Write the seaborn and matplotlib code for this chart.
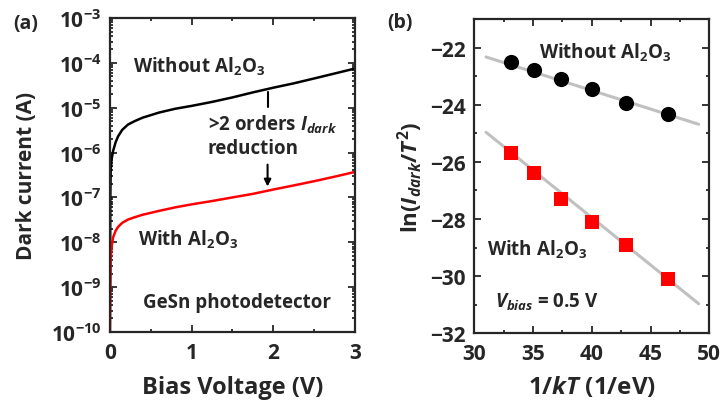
import numpy as np
import pandas as pd
import matplotlib
matplotlib.use('Agg')
import matplotlib.pyplot as plt
import matplotlib.ticker as mticker
import seaborn as sns

#%% data
# (a) dark current vs bias voltage
bias_v = [0, 0.005, 0.01, 0.02, 0.04, 0.07, 0.1, 0.15, 0.22, 0.3, 0.4, 0.6, 0.8,
          1.0, 1.25, 1.5, 1.75, 2.0, 2.25, 2.5, 2.75, 3.0]
i_without = [1e-10, 1e-7, 4e-7, 7e-7, 1.1e-6, 1.7e-6, 2.3e-6, 3.2e-6, 4.2e-6, 5e-6,
             6e-6, 7.8e-6, 9.5e-6, 1.1e-5, 1.35e-5, 1.7e-5, 2.2e-5, 2.8e-5, 3.5e-5,
             4.5e-5, 5.8e-5, 7.5e-5]
i_with = [1e-10, 1e-9, 4e-9, 8e-9, 1.3e-8, 1.8e-8, 2.2e-8, 2.7e-8, 3.2e-8, 3.6e-8,
          4.1e-8, 5e-8, 6e-8, 7e-8, 8.3e-8, 1e-7, 1.2e-7, 1.5e-7, 1.85e-7, 2.3e-7,
          2.9e-7, 3.7e-7]

# (b) Arrhenius plot
inv_kt = [33.1, 35.1, 37.4, 40.0, 42.9, 46.45]
ln_without = [-22.49, -22.79, -23.10, -23.43, -23.93, -24.31]
ln_with = [-25.68, -26.39, -27.31, -28.12, -28.92, -30.09]
fit_x = [31.0, 49.1]
fit_without = [-22.32, -24.68]
fit_with = [-24.96, -30.97]

y_decades = [-10, -9, -8, -7, -6, -5, -4, -3]

#%% style
sns.set_style('ticks')
FONT = 'Open Sans'
plt.rcParams['font.family'] = [FONT, 'DejaVu Sans']
plt.rcParams['font.weight'] = 'bold'
plt.rcParams['mathtext.fontset'] = 'custom'
plt.rcParams['mathtext.rm'] = FONT + ':bold'
plt.rcParams['mathtext.bf'] = FONT + ':bold'
plt.rcParams['mathtext.it'] = FONT + ':bold:italic'
plt.rcParams['axes.linewidth'] = 1.6

fig = plt.figure(figsize=(7.23, 4.06), dpi=100)
ax1 = fig.add_axes([0.152, 0.180, 0.339, 0.773])
ax2 = fig.add_axes([0.656, 0.177, 0.325, 0.773])

#%% panel (a)
dark = pd.DataFrame({'V': bias_v, 'without': i_without, 'with': i_with})
sns.lineplot(data=dark, x='V', y='without', ax=ax1, color='black', lw=1.8)
sns.lineplot(data=dark, x='V', y='with', ax=ax1, color='#ff0000', lw=1.8)
ax1.set_yscale('log')
ax1.set_xlim(0, 3)
ax1.set_ylim(1e-10, 1e-3)
ax1.set_yticks([10.0**d for d in y_decades])
ax1.set_yticklabels([r'$\mathbf{10^{%d}}$' % d for d in y_decades])
ax1.yaxis.set_minor_locator(mticker.LogLocator(base=10, subs=np.arange(2, 10), numticks=20))
ax1.yaxis.set_minor_formatter(mticker.NullFormatter())
ax1.set_xticks([0, 1, 2, 3])
ax1.xaxis.set_minor_locator(mticker.MultipleLocator(0.5))
ax1.set_xlabel('Bias Voltage (V)', fontsize=17, fontweight='bold', labelpad=9)
ax1.set_ylabel('Dark current (A)', fontsize=15, fontweight='bold', labelpad=10)

kw = dict(ha='left', va='center', fontsize=13.5)
ax1.text(0.094, 0.847, r'Without Al$_2$O$_3$', transform=ax1.transAxes, **kw)
ax1.text(0.114, 0.296, r'With Al$_2$O$_3$', transform=ax1.transAxes, **kw)
ax1.text(0.135, 0.096, 'GeSn photodetector', transform=ax1.transAxes, **kw)
ax1.text(0.40, 0.664, r'>2 orders $I_{dark}$', transform=ax1.transAxes, **kw)
ax1.text(0.40, 0.585, 'reduction', transform=ax1.transAxes, **kw)
ax1.plot([1.93, 1.93], [2.3e-5, 1.05e-5], color='black', lw=1.5)
ax1.annotate('', xy=(1.93, 1.75e-7), xytext=(1.93, 5.4e-7),
             arrowprops=dict(arrowstyle='-|>', color='black', lw=1.5,
                             mutation_scale=10, shrinkA=0, shrinkB=0))

#%% panel (b)
arr = pd.DataFrame({'x': inv_kt, 'without': ln_without, 'with': ln_with})
fits = pd.DataFrame({'x': fit_x, 'without': fit_without, 'with': fit_with})
sns.lineplot(data=fits, x='x', y='without', ax=ax2, color='#c0c0c0', lw=2.2, zorder=1)
sns.lineplot(data=fits, x='x', y='with', ax=ax2, color='#c0c0c0', lw=2.2, zorder=1)
sns.scatterplot(data=arr, x='x', y='without', ax=ax2, color='black', marker='o',
                s=120, edgecolor='black', linewidth=0, zorder=3)
sns.scatterplot(data=arr, x='x', y='with', ax=ax2, color='#ff0000', marker='s',
                s=95, edgecolor='#ff0000', linewidth=0, zorder=3)
ax2.set_xlim(30, 50)
ax2.set_ylim(-32, -21)
ax2.set_xticks([30, 35, 40, 45, 50])
ax2.set_yticks([-32, -30, -28, -26, -24, -22])
ax2.xaxis.set_minor_locator(mticker.MultipleLocator(2.5))
ax2.yaxis.set_minor_locator(mticker.MultipleLocator(1))
ax2.set_xlabel(r'1/$kT$ (1/eV)', fontsize=17.5, fontweight='bold', labelpad=7)
ax2.set_ylabel(r'ln($I_{dark}$/$T^2$)', fontsize=16, fontweight='bold', labelpad=4)

ax2.text(0.277, 0.895, r'Without Al$_2$O$_3$', transform=ax2.transAxes, **kw)
ax2.text(0.055, 0.27, r'With Al$_2$O$_3$', transform=ax2.transAxes, **kw)
ax2.text(0.089, 0.10, r'$V_{bias}$ = 0.5 V', transform=ax2.transAxes, **kw)

#%% ticks / labels
for ax in (ax1, ax2):
    ax.tick_params(which='both', direction='in', top=True, right=True,
                   labelsize=15, width=1.3)
    ax.tick_params(which='major', length=5)
    ax.tick_params(which='minor', length=2.5)
    ax.tick_params(axis='x', which='major', pad=7)
    ax.tick_params(axis='y', which='major', pad=6)
    for lab in ax.get_xticklabels() + ax.get_yticklabels():
        lab.set_fontweight('bold')

fig.text(0.035, 0.941, '(a)', fontsize=14, ha='center', va='center')
fig.text(0.553, 0.943, '(b)', fontsize=14, ha='center', va='center')

fig.savefig('out.png', dpi=100)
